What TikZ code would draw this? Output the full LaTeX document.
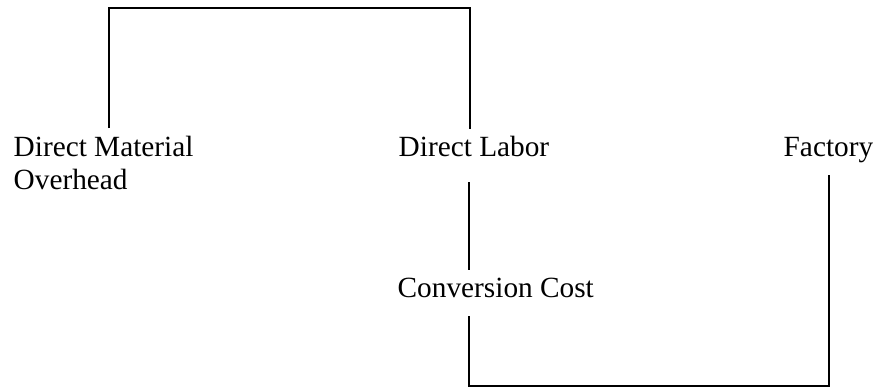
\documentclass[tikz,border=0pt]{standalone}
\usepackage{fontspec}
\setmainfont{Liberation Serif}
\begin{document}
\begin{tikzpicture}[x=1pt,y=-1pt,line width=1.4pt,
  label/.style={font=\fontsize{29.3}{33}\selectfont,anchor=base west,inner sep=0pt}]
\useasboundingbox (0,0) rectangle (873,388);
\node[label] (dm) at (13,156)  {Direct Material};
\node[label] (oh) at (13,189)  {Overhead};
\node[label] (dl) at (398,156) {Direct Labor};
\node[label] (fo) at (783,156) {Factory};
\node[label] (cc) at (397,297) {Conversion Cost};
\coordinate (dmup)   at (109,128);
\coordinate (dlup)   at (470,129);
\coordinate (dldown) at (469,182);
\coordinate (ccup)   at (469,270);
\coordinate (ccdown) at (469,316);
\coordinate (foend)  at (829,175);
\draw (dmup) -- ++(0,-120) -| (dlup);
\draw (dldown) -- (ccup);
\draw (ccdown) -- ++(0,70) -| (foend);
\end{tikzpicture}
\end{document}
